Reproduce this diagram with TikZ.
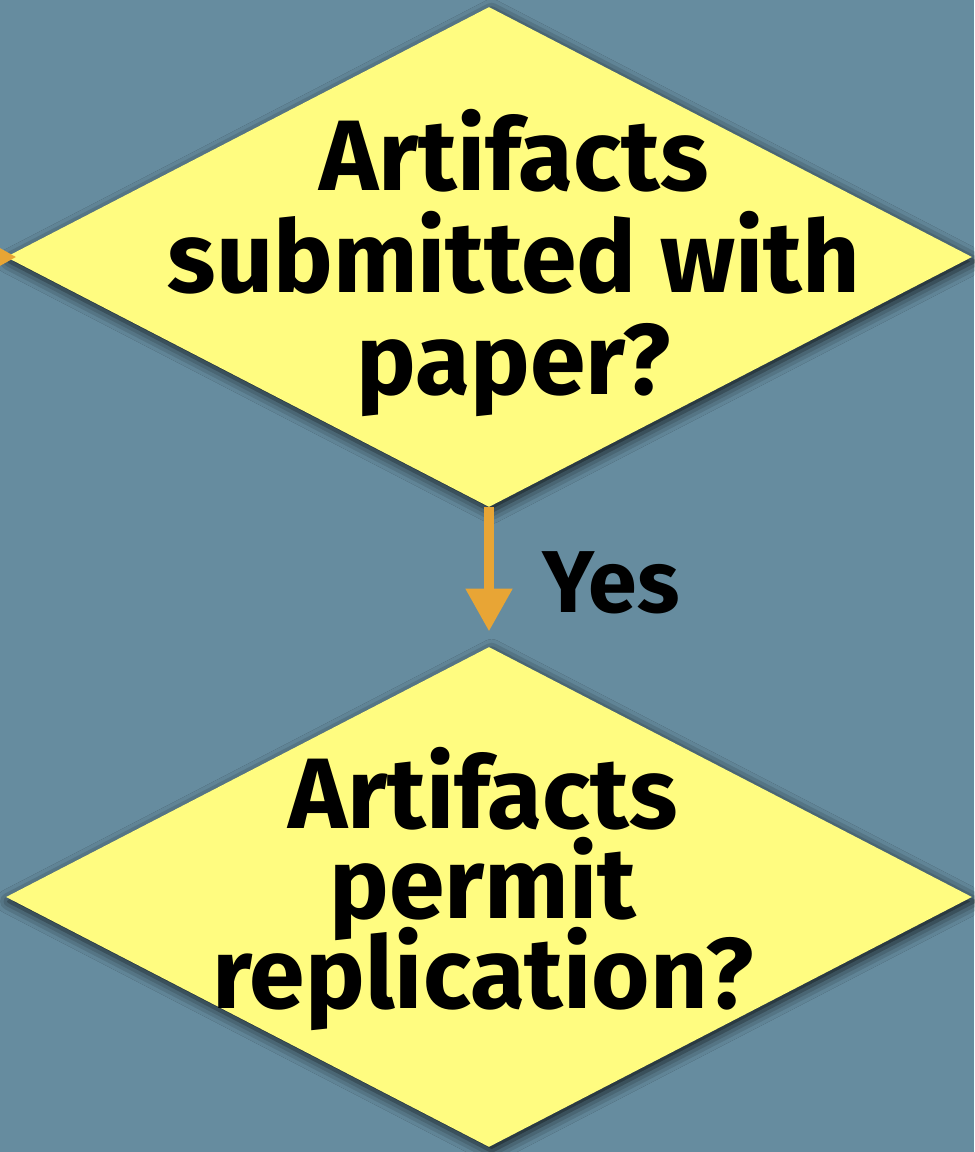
\documentclass[tikz,border=0pt]{standalone}
\usepackage{fontspec}
\setmainfont{Fira Sans}
\usepackage{xcolor}
\definecolor{Slate}{HTML}{668C9F}
\definecolor{Lemon}{HTML}{FFFC80}
\definecolor{Amber}{HTML}{E8A535}
\usepackage{tikz}
\usetikzlibrary{arrows.meta, positioning, shapes.geometric, shadows.blur}
\tikzset{
  decision/.style={
    diamond, fill=Lemon, draw=none,
    minimum width=19.32cm, minimum height=10cm, inner sep=0pt,
    blur shadow={shadow xshift=1.5pt, shadow yshift=-2.5pt,
      shadow blur radius=7pt, shadow opacity=85}
  },
  question/.style={
    align=center, inner sep=0pt, text=black,
    font={\fontsize{57}{#1}\selectfont\bfseries\lineskiplimit-100pt}
  },
  question/.default=58,
  flow/.style={-{Triangle[length=0.86cm, width=0.88cm]}, line width=6.2pt, color=Amber},
}

\begin{document}
\begin{tikzpicture}

\fill[Slate] (0,0) rectangle (19.48,23.04);
\useasboundingbox (0,0) rectangle (19.48,23.04);

% the two yes/no boxes
\node[decision] at (9.78,17.90) (d1) {};
\node[decision] at (9.78,5.10) (d2) {};

\node[question=58] at (10.28,17.78) (q1) {Artifacts\\submitted with\\paper?};
\node[question=51] at (9.66,5.26) (q2) {Artifacts\\permit\\replication?};

% incoming branch from the left
\coordinate (from) at (-2,17.90);
\draw[flow, shorten >=-0.22cm] (from) -- (d1.west);

\draw[flow, shorten >=0.3cm] (d1.south) -- (d2.north)
  node[pos=0.757, anchor=base west, xshift=0.84cm, text=black,
       font=\fontsize{50}{60}\selectfont\bfseries] (yes) {Yes};

\end{tikzpicture}
\end{document}
